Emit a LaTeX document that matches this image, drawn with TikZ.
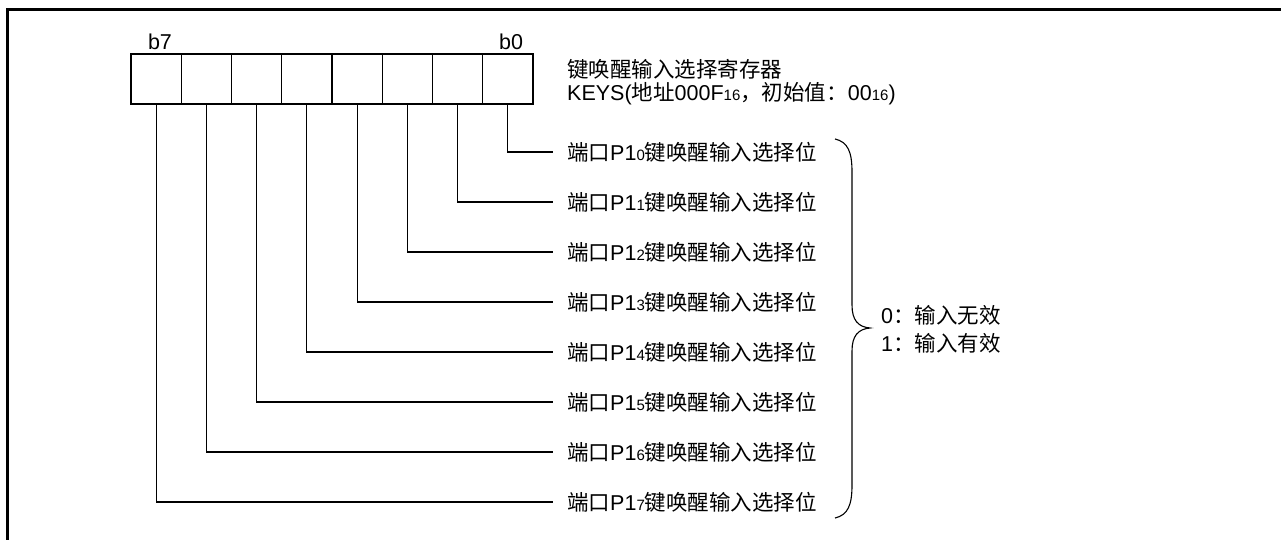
\documentclass[tikz,border=0pt]{standalone}
\usepackage{fontspec}
\setmainfont{Liberation Sans}
\newfontfamily\cjk{Noto Sans CJK SC}
\newcommand{\sbs}[1]{{\fontsize{15}{16}\selectfont #1}}
\newcommand{\portlabel}[1]{{\cjk 端口}P1\sbs{#1}{\cjk 键唤醒输入选择位}}
\begin{document}
\begin{tikzpicture}[x=1pt,y=-1pt,
  font=\fontsize{21.5}{24}\selectfont,
  cell/.style={draw, line width=1.1pt, minimum width=50.25pt, minimum height=50pt, inner sep=0pt, outer sep=0pt},
  lbl/.style={anchor=west, inner sep=2pt},
  conn/.style={line width=1.1pt},
  frame/.style={line width=3pt}]
\useasboundingbox (0,0) rectangle (1281,540);
\draw[frame] (7.5,540) -- (7.5,9.5) -- (1281,9.5);
\foreach \b in {0,...,7}{
  \node[cell] (bit\b) at ({131+50.25*(7.5-\b)},79) {};
  \node[lbl] (p\b) at (565,{152+50*\b}) {\portlabel{\b}};
  \draw[conn] (bit\b.south) |- ([xshift=-12pt]p\b.west);
}
\node (lb7) at (160,42) {b7};
\node (lb0) at (511,42) {b0};
\node[lbl] (title) at (565,69) {\cjk 键唤醒输入选择寄存器};
\node[lbl] (addr) at (565,94) {KEYS({\cjk 地址}000F\sbs{16}{\cjk ，初始值：}00\sbs{16})};
\draw[conn] (835,139) .. controls (848,142) and (852,152) .. (852,172) -- (852,305)
  .. controls (852,320) and (858,327) .. (870,328)
  .. controls (858,329) and (852,336) .. (852,351) -- (852,485)
  .. controls (852,505) and (848,515) .. (835,518);
\node[lbl] (v0) at (879,315) {0{\cjk ：输入无效}};
\node[lbl] (v1) at (879,343) {1{\cjk ：输入有效}};
\end{tikzpicture}
\end{document}
